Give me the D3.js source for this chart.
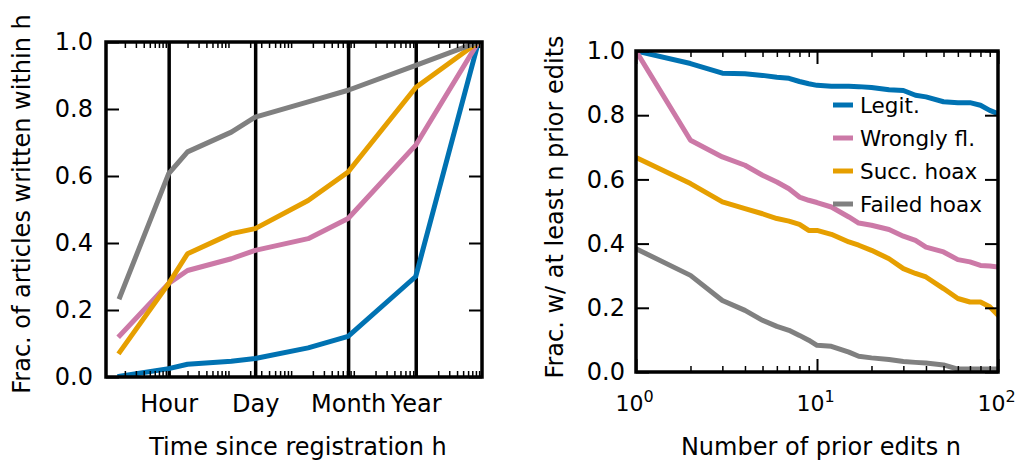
<!DOCTYPE html>
<html>
<head>
<meta charset="utf-8">
<script src="https://cdn.jsdelivr.net/npm/d3@7"></script>
<style>
body { margin: 0; background: #fff; }
svg { display: block; font-family: "DejaVu Sans", sans-serif; }
</style>
</head>
<body>
<svg id="chart" width="1016" height="461"></svg>
<script>
// left panel: fraction of articles written within h hours of registration
const timeHours = [1/6, 1, 2, 10, 24, 168, 730, 8760, 87600];
const timeLegit   = [0.002, 0.025, 0.038, 0.047, 0.055, 0.087, 0.121, 0.300, 1.0];
const timeWrongly = [0.124, 0.279, 0.318, 0.353, 0.378, 0.413, 0.473, 0.692, 1.0];
const timeSucc    = [0.075, 0.279, 0.368, 0.428, 0.443, 0.527, 0.612, 0.864, 1.0];
const timeFailed  = [0.239, 0.607, 0.672, 0.731, 0.776, 0.821, 0.856, 0.930, 1.0];
const timeMarkHours = [1, 24, 730, 8760];
const timeMarkLabels = ['Hour', 'Day', 'Month', 'Year'];

// right panel: fraction of creators with at least n prior edits
const priorEdits = [1, 2, 3, 4, 5, 6, 7, 8, 9, 10, 12, 15, 17, 20, 25, 30, 35, 40, 50, 60, 70, 80, 90, 100];
const editsLegit   = [1.0, 0.961, 0.931, 0.929, 0.924, 0.918, 0.915, 0.905, 0.898, 0.893, 0.890, 0.890, 0.889, 0.886, 0.879, 0.877, 0.862, 0.857, 0.842, 0.839, 0.839, 0.831, 0.815, 0.805];
const editsWrongly = [1.0, 0.722, 0.670, 0.644, 0.613, 0.592, 0.571, 0.545, 0.535, 0.528, 0.514, 0.483, 0.464, 0.457, 0.444, 0.423, 0.410, 0.389, 0.374, 0.350, 0.343, 0.332, 0.330, 0.327];
const editsSucc    = [0.668, 0.587, 0.530, 0.509, 0.493, 0.478, 0.470, 0.460, 0.441, 0.441, 0.429, 0.405, 0.395, 0.379, 0.353, 0.322, 0.307, 0.296, 0.260, 0.229, 0.218, 0.218, 0.203, 0.177];
const editsFailed  = [0.384, 0.301, 0.223, 0.192, 0.161, 0.142, 0.130, 0.114, 0.099, 0.083, 0.080, 0.062, 0.049, 0.044, 0.039, 0.033, 0.030, 0.028, 0.022, 0.009, 0.009, 0.009, 0.009, 0.009];
const editsMajor = [1, 10, 100];

const seriesNames = ['Legit.', 'Wrongly fl.', 'Succ. hoax', 'Failed hoax'];
const seriesColors = ['#0072b2', '#cc79a7', '#e69f00', '#808080'];
const fracTicks = [0, 0.2, 0.4, 0.6, 0.8, 1.0];

const FONT = 24;
const svg = d3.select('#chart');

function minorTicks(lo, hi) {
    let out = [];
    for (let e = Math.floor(Math.log10(lo)); e < Math.log10(hi); e++) {
        for (let m = 2; m < 10; m++) {
            let v = +(m * Math.pow(10, e)).toPrecision(6);
            if (v > lo && v < hi) out.push(v);
        }
    }
    return out;
}

function styleAxis(sel, width) {
    sel.select('.domain').remove();
    sel.selectAll('.tick line').attr('stroke', '#000').attr('stroke-width', width);
    sel.selectAll('.tick text').attr('fill', '#000').style('font-size', FONT + 'px')
        .style('font-family', '"DejaVu Sans", sans-serif');
}

function drawPanel(p) {
    let [x0, x1] = p.x.range();
    let [y0, y1] = p.y.range();   // y0 is the bottom
    let g = svg.append('g');

    svg.append('clipPath').attr('id', p.id + '-clip')
        .append('rect')
        .attr('x', x0).attr('y', y1)
        .attr('width', x1 - x0).attr('height', y0 - y1);

    // x labels (and, for the time panel, full-height marker lines)
    let xLab = g.append('g').attr('transform', `translate(0,${y0})`)
        .call(d3.axisBottom(p.x).tickValues(p.xMajor)
            .tickSize(p.xGrid ? -(y0 - y1) : -13)
            .tickPadding(p.xPad)
            .tickFormat((d, i) => p.xFormat(d, i)));
    styleAxis(xLab, p.xGrid ? 3.5 : 2);
    if (p.xSup) {
        xLab.selectAll('.tick text').each(function(d) {
            let t = d3.select(this).attr('x', -2).style('font-size', '22px').text('10');
            t.append('tspan').attr('dy', '-0.55em').style('font-size', '16px')
                .text(Math.round(Math.log10(d)));
        });
    }

    // data lines
    let line = d3.line().x(d => p.x(d[0])).y(d => p.y(d[1]));
    g.append('g').attr('clip-path', `url(#${p.id}-clip)`)
        .selectAll('path')
        .data(p.series)
        .enter()
        .append('path')
        .attr('d', d => line(p.xs.map((v, i) => [v, d[i]])))
        .attr('fill', 'none')
        .attr('stroke', (d, i) => seriesColors[i])
        .attr('stroke-width', 5)
        .attr('stroke-linejoin', 'round')
        .attr('stroke-linecap', 'square');

    // ticks on all four sides, pointing inward
    let minor = minorTicks(p.x.domain()[0], p.x.domain()[1]);
    styleAxis(g.append('g').attr('transform', `translate(0,${y0})`)
        .call(d3.axisBottom(p.x).tickValues(minor).tickSize(-6).tickFormat('')), 1.5);
    styleAxis(g.append('g').attr('transform', `translate(0,${y1})`)
        .call(d3.axisTop(p.x).tickValues(minor).tickSize(-6).tickFormat('')), 1.5);
    if (!p.xGrid) {
        styleAxis(g.append('g').attr('transform', `translate(0,${y1})`)
            .call(d3.axisTop(p.x).tickValues(p.xMajor).tickSize(-13).tickFormat('')), 2);
    }
    styleAxis(g.append('g').attr('transform', `translate(${x0},0)`)
        .call(d3.axisLeft(p.y).tickValues(fracTicks).tickSize(-13)
            .tickPadding(p.yPad).tickFormat(d3.format('.1f'))), 2);
    styleAxis(g.append('g').attr('transform', `translate(${x1},0)`)
        .call(d3.axisRight(p.y).tickValues(fracTicks).tickSize(-13).tickFormat('')), 2);

    g.append('rect')
        .attr('x', x0).attr('y', y1)
        .attr('width', x1 - x0).attr('height', y0 - y1)
        .attr('fill', 'none').attr('stroke', '#000').attr('stroke-width', 3.5);

    g.append('text')
        .attr('x', p.xTitlePos[0]).attr('y', p.xTitlePos[1])
        .attr('text-anchor', 'middle').style('font-size', FONT + 'px')
        .text(p.xTitle);
    g.append('text')
        .attr('transform', `translate(${p.yTitlePos[0]},${p.yTitlePos[1]}) rotate(-90)`)
        .attr('text-anchor', 'middle').style('font-size', FONT + 'px')
        .text(p.yTitle);
    return g;
}

drawPanel({
    id: 'time',
    x: d3.scaleLog().domain([0.1, 1e5]).range([106, 482]),
    y: d3.scaleLinear().domain([0, 1]).range([377, 42]),
    xs: timeHours,
    series: [timeLegit, timeWrongly, timeSucc, timeFailed],
    xMajor: timeMarkHours,
    xFormat: (d, i) => timeMarkLabels[i],
    xGrid: true,
    xPad: 18,
    yPad: 13,
    xTitle: 'Time since registration h',
    xTitlePos: [298, 455],
    yTitle: 'Frac. of articles written within h',
    yTitlePos: [30, 204]
});

let editsPanel = drawPanel({
    id: 'edits',
    x: d3.scaleLog().domain([1, 100]).range([636, 998]),
    y: d3.scaleLinear().domain([0, 1]).range([372, 51]),
    xs: priorEdits,
    series: [editsLegit, editsWrongly, editsSucc, editsFailed],
    xMajor: editsMajor,
    xFormat: d => d,
    xSup: true,
    xGrid: false,
    xPad: 23,
    yPad: 11,
    xTitle: 'Number of prior edits n',
    xTitlePos: [821, 455],
    yTitle: 'Frac. w/ at least n prior edits',
    yTitlePos: [563, 207]
});

// legend, no frame
let legend = editsPanel.append('g').attr('transform', 'translate(833,105)');
let item = legend.selectAll('g')
    .data(seriesNames)
    .enter()
    .append('g')
    .attr('transform', (d, i) => `translate(0,${i * 33})`);
item.append('line')
    .attr('x1', 0).attr('x2', 20)
    .attr('stroke', (d, i) => seriesColors[i])
    .attr('stroke-width', 5);
item.append('text')
    .attr('x', 27).attr('dy', '0.35em')
    .style('font-size', '21.5px')
    .text(d => d);
</script>
</body>
</html>
